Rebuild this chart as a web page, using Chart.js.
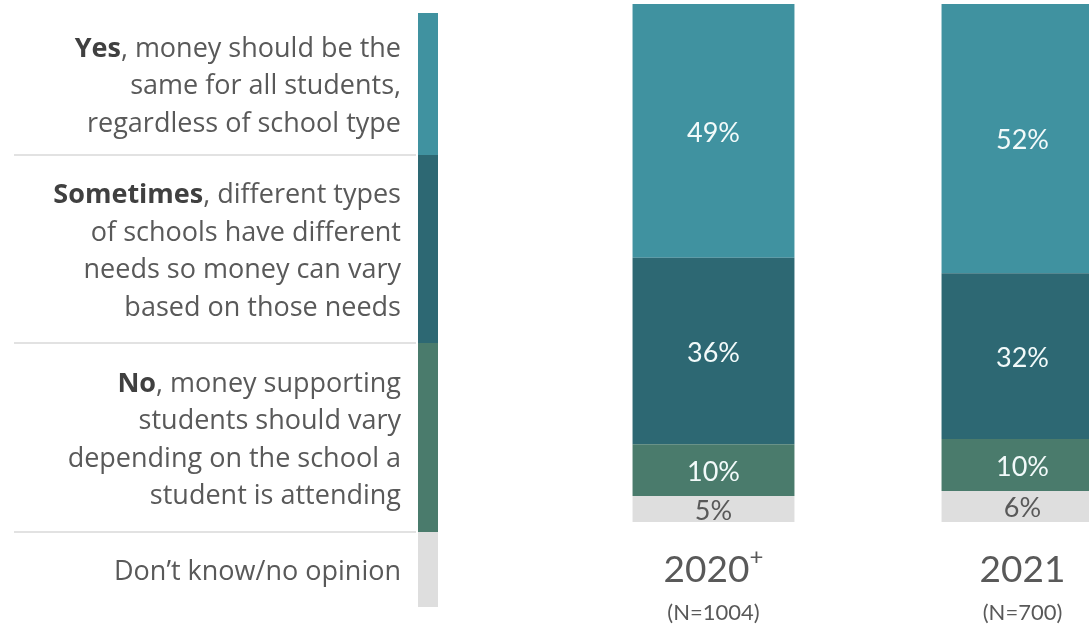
<!DOCTYPE html>
<html>
<head>
<meta charset="utf-8">
<script src="https://cdn.jsdelivr.net/npm/chart.js@4.4.0/dist/chart.umd.min.js"></script>
<style>
    html, body { margin: 0; padding: 0; background: #fff; overflow: hidden; width: 1089px; height: 624px; }
    #wrap { position: absolute; left: 0; top: 0; width: 1180px; height: 624px; }
    #legend { position: absolute; left: 0; top: 13px; width: 440px; font-family: 'Open Sans', Lato, sans-serif; color: #595959; }
    .row { position: relative; display: flex; align-items: center; justify-content: flex-end; }
    .row .txt { text-align: right; margin-right: 39px; font-size: 27px; line-height: 37.5px; white-space: nowrap; }
    .row .txt b { color: #404040; font-weight: 700; }
    .row .swatch { position: absolute; right: 2px; top: 0; bottom: 0; width: 20px; }
    .row .sep { position: absolute; left: 14px; width: 402px; height: 2px; bottom: -1px; background: #e2e2e2; }
</style>
</head>
<body>
<div id="wrap"><canvas id="chart" width="1180" height="624"></canvas></div>
<div id="legend"></div>
<script>
    const years = ['2020', '2021'];
    const yearMarks = ['+', ''];
    const sampleSizes = ['(N=1004)', '(N=700)'];

    const yesValues = [49, 52];
    const sometimesValues = [36, 32];
    const noValues = [10, 10];
    const dontKnowValues = [5, 6];

    // legend text, first word bold
    const yesText = ['Yes', ', money should be the', 'same for all students,', 'regardless of school type'];
    const sometimesText = ['Sometimes', ', different types', 'of schools have different', 'needs so money can vary', 'based on those needs'];
    const noText = ['No', ', money supporting', 'students should vary', 'depending on the school a', 'student is attending'];
    const dontKnowText = ['', 'Don\u2019t know/no opinion'];

    const colors = {
        yes: '#4092a0',
        sometimes: '#2d6873',
        no: '#4a7b6c',
        dontKnow: '#dedede'
    };

    // legend rows, top to bottom
    const legendRows = [
        { text: yesText, color: colors.yes, height: 142 },
        { text: sometimesText, color: colors.sometimes, height: 188 },
        { text: noText, color: colors.no, height: 189 },
        { text: dontKnowText, color: colors.dontKnow, height: 75 }
    ];

    const legend = document.getElementById('legend');
    legendRows.forEach((row, i) => {
        const div = document.createElement('div');
        div.className = 'row';
        div.style.height = row.height + 'px';
        const lines = row.text.slice(1);
        let html = '';
        if (row.text[0]) html += '<b>' + row.text[0] + '</b>';
        html += lines.join('<br>');
        div.innerHTML = '<div class="txt">' + html + '</div><div class="swatch" style="background:' + row.color + '"></div>' +
            (i < legendRows.length - 1 ? '<div class="sep"></div>' : '');
        legend.appendChild(div);
    });

    const valueLabels = {
        id: 'valueLabels',
        afterDatasetsDraw(chart) {
            const ctx = chart.ctx;
            ctx.save();
            ctx.font = '27px Lato, "Open Sans", sans-serif';
            ctx.textAlign = 'center';
            ctx.textBaseline = 'middle';
            chart.data.datasets.forEach((ds, di) => {
                const meta = chart.getDatasetMeta(di);
                meta.data.forEach((bar, i) => {
                    const cy = (bar.y + bar.base) / 2 + 2;
                    ctx.fillStyle = ds.labelColor;
                    ctx.fillText(ds.data[i] + '%', bar.x, cy);
                });
            });
            ctx.restore();
        }
    };

    const yearLabels = {
        id: 'yearLabels',
        afterDraw(chart) {
            const ctx = chart.ctx;
            const xScale = chart.scales.x;
            ctx.save();
            ctx.fillStyle = '#595959';
            ctx.textBaseline = 'alphabetic';
            years.forEach((year, i) => {
                const x = xScale.getPixelForValue(i);
                ctx.font = '37px Lato, "Open Sans", sans-serif';
                const w = ctx.measureText(year).width;
                ctx.font = '24px Lato, "Open Sans", sans-serif';
                const wm = yearMarks[i] ? ctx.measureText(yearMarks[i]).width : 0;
                const left = x - (w + wm) / 2;
                ctx.textAlign = 'left';
                ctx.font = '37px Lato, "Open Sans", sans-serif';
                ctx.fillText(year, left, 582);
                if (yearMarks[i]) {
                    ctx.font = '24px Lato, "Open Sans", sans-serif';
                    ctx.fillText(yearMarks[i], left + w, 565);
                }
                ctx.textAlign = 'center';
                ctx.font = '22px Lato, "Open Sans", sans-serif';
                ctx.fillText(sampleSizes[i], x, 620);
            });
            ctx.restore();
        }
    };

    new Chart(document.getElementById('chart'), {
        type: 'bar',
        data: {
            labels: years,
            datasets: [
                { label: 'Don\u2019t know/no opinion', data: dontKnowValues, backgroundColor: colors.dontKnow, labelColor: '#595959' },
                { label: 'No', data: noValues, backgroundColor: colors.no, labelColor: '#f2fafa' },
                { label: 'Sometimes', data: sometimesValues, backgroundColor: colors.sometimes, labelColor: '#f2fafa' },
                { label: 'Yes', data: yesValues, backgroundColor: colors.yes, labelColor: '#f2fafa' }
            ]
        },
        options: {
            responsive: false,
            animation: false,
            layout: { padding: { left: 559, right: 3, top: 4, bottom: 102 } },
            datasets: { bar: { categoryPercentage: 1, barPercentage: 0.524, borderWidth: 0 } },
            scales: {
                x: { stacked: true, display: false },
                y: { stacked: true, display: false, min: 0, max: 100 }
            },
            plugins: {
                legend: { display: false },
                tooltip: { enabled: false }
            }
        },
        plugins: [valueLabels, yearLabels]
    });
</script>
</body>
</html>
